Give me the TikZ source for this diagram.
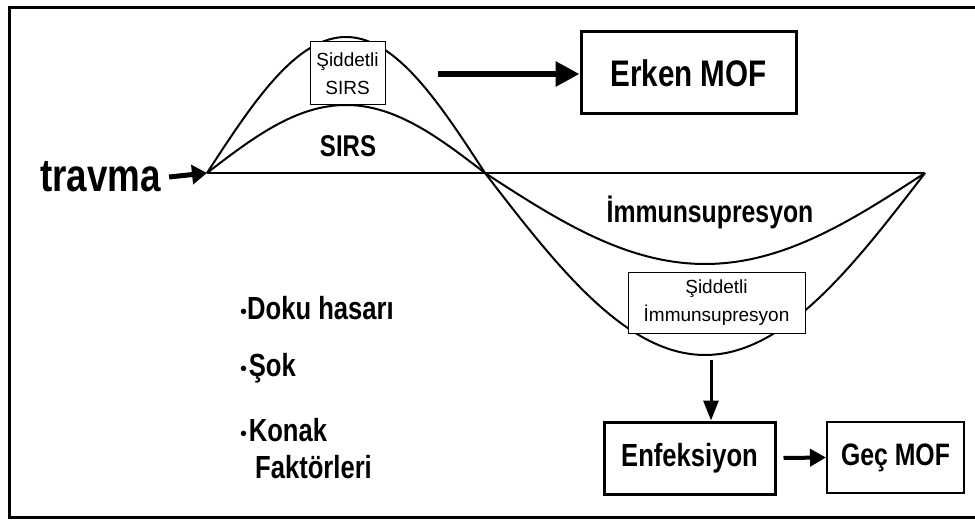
\documentclass[tikz,border=0pt]{standalone}
\usepackage{fontspec}
\setmainfont{Liberation Sans}
\newfontfamily\cond[FakeStretch=0.8]{Liberation Sans}
\usetikzlibrary{arrows.meta}
\newcommand{\bigfont}[1]{\cond\bfseries\fontsize{#1}{#1}\selectfont}
\newcommand{\smallfont}{\fontsize{19}{24}\selectfont}
\newcommand{\bul}{{\fontsize{20}{20}\selectfont\raisebox{1pt}{•}}}
\tikzset{
  wave/.style={line width=2pt},
  bigbox/.style={draw, line width=3pt, fill=white, inner sep=0pt},
  thinbox/.style={draw, line width=1pt, fill=white, inner sep=0pt, align=center, font=\smallfont},
  lbl/.style={inner sep=0pt, align=left},
}
\begin{document}
\begin{tikzpicture}[x=1pt,y=-1pt]
\useasboundingbox (0,0) rectangle (975,524);
% frame
\draw[line width=3pt] (975,8) -- (9,8) -- (9,517) -- (975,517);
% baseline
\coordinate (start) at (207,173);
\coordinate (cross) at (485,173);
\coordinate (rend) at (925,173);
\draw[line width=2.5pt] (start) -- (rend);
% waves
\draw[wave] plot[domain=207:485, samples=80] (\x, {173-136*sin(0.647482*(\x-207))});
\draw[wave] plot[domain=485:925, samples=100] (\x, {173+182*sin(0.409091*(\x-485))});
\draw[wave] plot[domain=207:485, samples=80] (\x, {173-68*sin(0.647482*(\x-207))});
\draw[wave] plot[domain=485:925, samples=100] (\x, {173+91*sin(0.409091*(\x-485))});
% travma
\node[lbl, anchor=west] (travma) at (40,177) {\bigfont{46}travma};
\coordinate (ta) at ([xshift=8pt]travma.east);
\draw[line width=5pt, -{Triangle[length=15pt,width=19pt]}] (ta) -- (start);
% SIRS boxes and labels
\node[thinbox, minimum width=75pt, minimum height=63pt] (ssirs) at (347.5,73.5) {Şiddetli\\[4pt]SIRS};
\node[lbl] (sirs) at (348,146) {\bigfont{30}SIRS};
\node[bigbox, minimum width=215pt, minimum height=82pt] (erken) at (688.5,73) {\bigfont{37}Erken MOF};
\coordinate (ea) at (438,74);
\draw[line width=6pt, -{Triangle[length=24pt,width=24pt]}] (ea) -- (erken.west |- ea);
% immunsupresyon
\node[lbl] (imm) at (710,212) {\bigfont{31}İmmunsupresyon};
\node[thinbox, minimum width=177pt, minimum height=61pt] (simm) at (716.5,302.5) {Şiddetli\\[4pt]İmmunsupresyon};
% lower boxes
\node[bigbox, minimum width=171pt, minimum height=72pt] (enf) at (689.5,458) {\bigfont{32}Enfeksiyon};
\node[bigbox, line width=2pt, minimum width=137pt, minimum height=71pt] (gec) at (895.5,457.5) {\bigfont{31}Geç MOF};
\coordinate (da) at (711,360);
\draw[line width=3pt, -{Triangle[length=20pt,width=15pt]}] (da) -- (da |- enf.north);
\draw[line width=4pt, -{Triangle[length=16pt,width=17pt]}] ([xshift=7pt]enf.east) -- (gec.west);
% bullets
\node[lbl, anchor=west] (b1) at (240,308) {\bul\bigfont{32}Doku hasarı};
\node[lbl, anchor=west] (b2) at (240,368) {\bul\,\bigfont{32}Şok};
\node[lbl, anchor=west] (b3) at (240,430) {\bul\,\bigfont{32}Konak};
\node[lbl, anchor=west] (b4) at (255,467) {\bigfont{32}Faktörleri};
\end{tikzpicture}
\end{document}
